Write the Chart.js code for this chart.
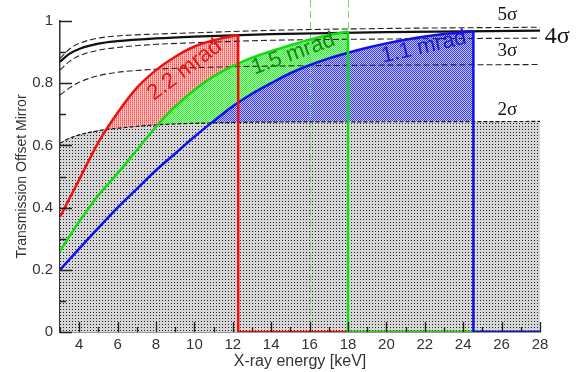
<!DOCTYPE html>
<html>
<head>
<meta charset="utf-8">
<script src="https://cdn.jsdelivr.net/npm/chart.js@4.4.1/dist/chart.umd.min.js"></script>
<style>
  html, body { margin: 0; padding: 0; background: #fff; }
  #wrap { width: 580px; height: 372px; }
</style>
</head>
<body>
<div id="wrap"><canvas id="chart" width="580" height="372"></canvas></div>
<script>
// Transmission curves per mirror angle (energy in keV), each ending at its cutoff
const redEnergy = [3, 4, 5, 6, 7, 8, 9, 10, 11, 12, 12.28];
const redTrans = [0.37, 0.49, 0.61, 0.705, 0.785, 0.842, 0.885, 0.918, 0.938, 0.952, 0.955];

const greenEnergy = [3, 4, 5, 6, 7, 8, 9, 10, 11, 12, 13, 14, 15, 16, 17, 18];
const greenTrans = [0.26, 0.355, 0.44, 0.51, 0.585, 0.66, 0.725, 0.778, 0.822, 0.855, 0.882, 0.903, 0.922, 0.94, 0.955, 0.966];

const blueEnergy = [3, 4, 5, 6, 7, 8, 9, 10, 11, 12, 13, 14, 15, 16, 17, 18, 19, 20, 21, 22, 23, 24, 24.53];
const blueTrans = [0.2, 0.268, 0.335, 0.4, 0.46, 0.52, 0.574, 0.628, 0.678, 0.726, 0.766, 0.8, 0.832, 0.858, 0.88, 0.898, 0.914, 0.928, 0.94, 0.95, 0.958, 0.964, 0.967];

// Sigma acceptance curves
const sigmaEnergy = [3, 3.5, 4, 5, 6, 8, 10, 14, 20, 28];
const solidTrans = [0.869, 0.895, 0.91, 0.927, 0.935, 0.944, 0.95, 0.958, 0.964, 0.969];
const sigma5 = [0.88, 0.91, 0.928, 0.945, 0.952, 0.958, 0.962, 0.97, 0.976, 0.98];
const sigma4 = [0.842, 0.87, 0.888, 0.906, 0.915, 0.925, 0.93, 0.938, 0.942, 0.945];
const sigma3 = [0.762, 0.785, 0.803, 0.824, 0.835, 0.845, 0.85, 0.855, 0.858, 0.86];
const sigma2 = [0.607, 0.623, 0.634, 0.647, 0.655, 0.666, 0.671, 0.675, 0.676, 0.677];

const markerEnergies = [16, 18];
const xMax = 28;

const xTicks = [4, 6, 8, 10, 12, 14, 16, 18, 20, 22, 24, 26, 28];
const xMinorTicks = [3, 5, 7, 9, 11, 13, 15, 17, 19, 21, 23, 25, 27];
const yTicks = [0, 0.2, 0.4, 0.6, 0.8, 1];
const yMinorTicks = [0.1, 0.3, 0.5, 0.7, 0.9];

const sigmaLabels = ['5σ', '4σ', '3σ', '2σ'];
const sigmaLabelPos = [[26.3, 1.02], [28.9, 0.948], [26.3, 0.903], [26.3, 0.715]];
const mradLabels = ['2.2 mrad', '1.5 mrad', '1.1 mrad'];
const mradLabelPos = [[9.5, 0.842], [15.15, 0.894], [21.95, 0.916]];

const toPoints = (xs, ys) => xs.map((x, i) => ({ x: x, y: ys[i] }));
const cutoff = (xs, ys) => [
  { x: xs[xs.length - 1], y: ys[ys.length - 1] },
  { x: xs[xs.length - 1], y: 0 },
  { x: xMax, y: 0 }
];

const ctx = document.getElementById('chart').getContext('2d');

function makePattern(size, bg, dots) {
  const c = document.createElement('canvas');
  c.width = size;
  c.height = size;
  const g = c.getContext('2d');
  g.fillStyle = bg;
  g.fillRect(0, 0, size, size);
  dots.forEach(([x, y, col]) => {
    g.fillStyle = col;
    g.fillRect(x, y, 1, 1);
  });
  return ctx.createPattern(c, 'repeat');
}

const grayFill = makePattern(3, '#d6d6d6', [[0, 0, '#222']]);
const redFill = makePattern(2, '#ffc4c4', [[0, 0, '#ff4a4a'], [0, 1, '#ff8a8a']]);
const greenFill = makePattern(2, '#40e840', [[1, 0, '#a4f7a4'], [0, 1, '#a4f7a4']]);
const blueFill = makePattern(2, '#3a3af0', [[1, 0, '#c4c4ff'], [0, 1, '#c4c4ff']]);

const RED = '#f01010';
const GREEN = '#10dd10';
const BLUE = '#1010ee';
const SIGMA2 = 10;

const line = (data, color, width, extra) => Object.assign({
  data: data,
  borderColor: color,
  borderWidth: width,
  pointRadius: 0,
  fill: false
}, extra || {});

const datasets = [
  line(cutoff(blueEnergy, blueTrans), BLUE, 2.5),
  line(cutoff(greenEnergy, greenTrans), GREEN, 2.5),
  line(cutoff(redEnergy, redTrans), RED, 2.5),
  line(toPoints(blueEnergy, blueTrans), BLUE, 2.5, {
    cubicInterpolationMode: 'monotone',
    fill: { target: SIGMA2, above: blueFill, below: 'transparent' }
  }),
  line(toPoints(greenEnergy, greenTrans), GREEN, 2.5, {
    cubicInterpolationMode: 'monotone',
    fill: { target: SIGMA2, above: greenFill, below: 'transparent' }
  }),
  line(toPoints(redEnergy, redTrans), RED, 2.5, {
    cubicInterpolationMode: 'monotone',
    fill: { target: SIGMA2, above: redFill, below: 'transparent' }
  }),
  line(toPoints(sigmaEnergy, solidTrans), '#111', 2.2, { cubicInterpolationMode: 'monotone' }),
  line(toPoints(sigmaEnergy, sigma5), '#222', 1.1, { cubicInterpolationMode: 'monotone', borderDash: [6, 3] }),
  line(toPoints(sigmaEnergy, sigma4), '#222', 1.1, { cubicInterpolationMode: 'monotone', borderDash: [6, 3] }),
  line(toPoints(sigmaEnergy, sigma3), '#222', 1.1, { cubicInterpolationMode: 'monotone', borderDash: [6, 3] }),
  line(toPoints(sigmaEnergy, sigma2), '#111', 1.2, {
    cubicInterpolationMode: 'monotone',
    borderDash: [4, 2],
    backgroundColor: grayFill,
    fill: 'origin'
  })
];

const FONT = '"Liberation Sans", Arial, sans-serif';

const decorations = {
  id: 'decorations',
  beforeDatasetsDraw(chart) {
    const c = chart.ctx;
    const xs = chart.scales.x;
    const area = chart.chartArea;
    c.save();
    c.strokeStyle = '#66dd66';
    c.lineWidth = 1;
    c.setLineDash([7, 4]);
    markerEnergies.forEach(e => {
      const px = Math.round(xs.getPixelForValue(e)) + 0.5;
      c.beginPath();
      c.moveTo(px, 0);
      c.lineTo(px, area.bottom);
      c.stroke();
    });
    c.restore();
  },
  afterDraw(chart) {
    const c = chart.ctx;
    const xs = chart.scales.x;
    const ys = chart.scales.y;
    const bottom = ys.getPixelForValue(0);
    const left = xs.getPixelForValue(3);
    c.save();
    c.setLineDash([]);
    // inward tick marks
    c.strokeStyle = '#222';
    c.lineWidth = 1.3;
    c.beginPath();
    xTicks.forEach(v => {
      const px = Math.round(xs.getPixelForValue(v)) + 0.5;
      c.moveTo(px, bottom);
      c.lineTo(px, bottom - 10);
    });
    xMinorTicks.forEach(v => {
      const px = Math.round(xs.getPixelForValue(v)) + 0.5;
      c.moveTo(px, bottom);
      c.lineTo(px, bottom - 5);
    });
    yTicks.forEach(v => {
      const py = Math.round(ys.getPixelForValue(v)) + 0.5;
      c.moveTo(left, py);
      c.lineTo(left + 12, py);
    });
    yMinorTicks.forEach(v => {
      const py = Math.round(ys.getPixelForValue(v)) + 0.5;
      c.moveTo(left, py);
      c.lineTo(left + 6, py);
    });
    c.stroke();

    // sigma labels
    c.fillStyle = '#111';
    c.textAlign = 'center';
    c.textBaseline = 'middle';
    sigmaLabels.forEach((t, i) => {
      const [x, y] = sigmaLabelPos[i];
      c.font = (i === 1 ? '24px' : '19px') + ' "Liberation Serif", "Times New Roman", serif';
      c.fillText(t, xs.getPixelForValue(x), ys.getPixelForValue(y));
    });

    // rotated mrad labels
    const mradColors = ['#ee1111', '#118a11', '#1a1acc'];
    const mradAngles = [-37, -20, -13];
    c.font = '22px ' + FONT;
    mradLabels.forEach((t, i) => {
      const [x, y] = mradLabelPos[i];
      c.save();
      c.translate(xs.getPixelForValue(x), ys.getPixelForValue(y));
      c.rotate(mradAngles[i] * Math.PI / 180);
      c.fillStyle = mradColors[i];
      c.fillText(t, 0, 0);
      c.restore();
    });
    c.restore();
  }
};

new Chart(ctx, {
  type: 'line',
  data: { datasets: datasets },
  options: {
    responsive: false,
    animation: false,
    events: [],
    layout: { padding: { top: 21, right: 40, left: 0, bottom: 0 } },
    plugins: {
      legend: { display: false },
      tooltip: { enabled: false },
      filler: { drawTime: 'beforeDatasetsDraw' }
    },
    scales: {
      x: {
        type: 'linear',
        min: 3,
        max: 28,
        afterBuildTicks: s => { s.ticks = xTicks.map(v => ({ value: v })); },
        afterFit: s => { s.height = 40; },
        grid: { display: false, drawTicks: false },
        border: { display: true, color: '#333', width: 1.5 },
        ticks: {
          color: '#333',
          font: { family: FONT, size: 15 },
          padding: 4,
          maxRotation: 0,
          autoSkip: false
        },
        title: {
          display: true,
          text: 'X-ray energy [keV]',
          color: '#333',
          font: { family: FONT, size: 16 },
          padding: { top: 0, bottom: 1 }
        }
      },
      y: {
        type: 'linear',
        min: 0,
        max: 1,
        afterBuildTicks: s => { s.ticks = yTicks.map(v => ({ value: v })); },
        afterFit: s => { s.width = 60; },
        grid: { display: false, drawTicks: false },
        border: { display: true, color: '#333', width: 1.5 },
        ticks: {
          color: '#333',
          font: { family: FONT, size: 15 },
          padding: 7,
          callback: v => String(Math.round(v * 10) / 10)
        },
        title: {
          display: true,
          text: 'Transmission Offset Mirror',
          color: '#333',
          font: { family: FONT, size: 14 },
          padding: { top: 14, bottom: 0 }
        }
      }
    }
  },
  plugins: [decorations]
});
</script>
</body>
</html>
